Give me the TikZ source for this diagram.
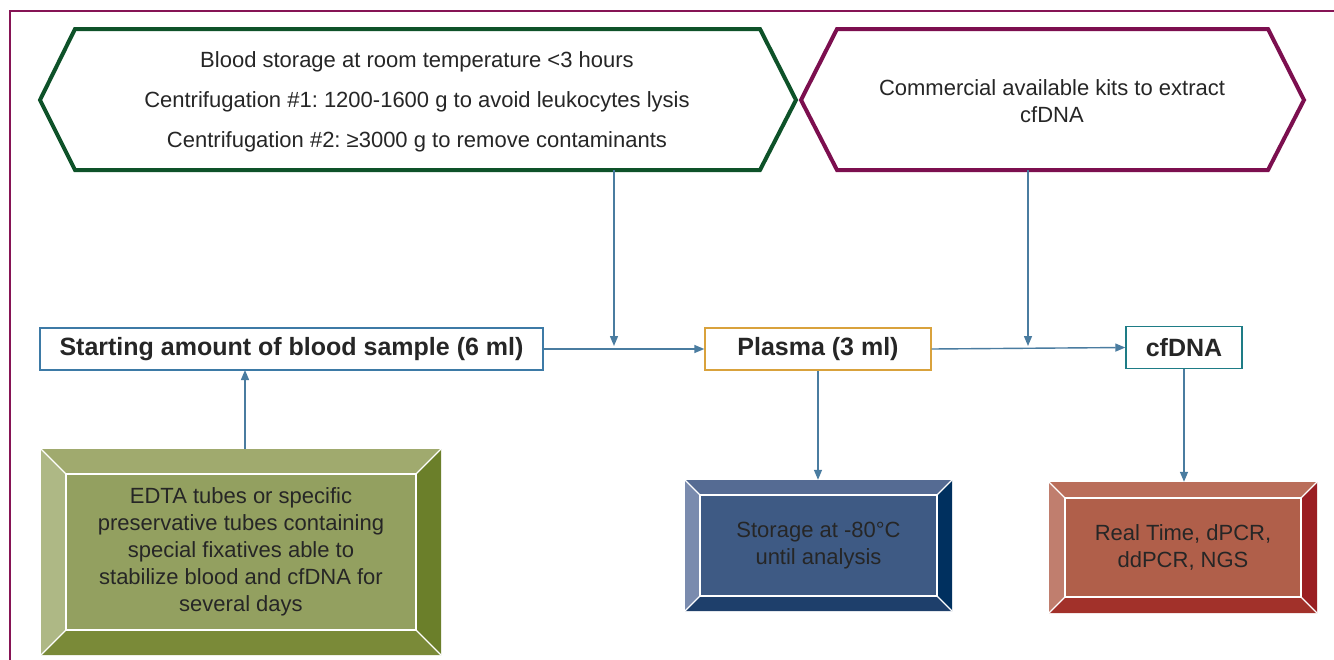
\documentclass[tikz,border=0pt]{standalone}
\usepackage{fontspec}
\setmainfont{Liberation Sans}
\usetikzlibrary{arrows.meta,fit}
\frenchspacing
\definecolor{frame}{HTML}{861455}
\definecolor{hexgreen}{HTML}{0E5229}
\definecolor{hexpurple}{HTML}{7C0F4F}
\definecolor{arrowc}{HTML}{4A7CA0}
\definecolor{startc}{HTML}{3D7AA6}
\definecolor{plasmac}{HTML}{D9A23C}
\definecolor{cfc}{HTML}{1E7C86}
\definecolor{txt}{HTML}{262626}
% olive bevel
\definecolor{gC}{HTML}{93A060}\definecolor{gT}{HTML}{A0AA6E}\definecolor{gL}{HTML}{AEB885}\definecolor{gB}{HTML}{7A8A38}\definecolor{gR}{HTML}{6B7F2A}
% blue bevel
\definecolor{bC}{HTML}{3E5A84}\definecolor{bT}{HTML}{556B93}\definecolor{bL}{HTML}{7A8BAE}\definecolor{bB}{HTML}{1E3F6B}\definecolor{bR}{HTML}{00305F}
% red bevel
\definecolor{rC}{HTML}{B05F4A}\definecolor{rT}{HTML}{BA6E5A}\definecolor{rL}{HTML}{C07E6E}\definecolor{rB}{HTML}{A2312A}\definecolor{rR}{HTML}{9A1E22}
\newcommand{\bevelbox}[8]{%
  \fill[#7C] (#2,#3) rectangle (#4,#5);
  \fill[#7T] (#2,#3) -- (#4,#3) -- (#4-#6,#3+#6) -- (#2+#6,#3+#6) -- cycle;
  \fill[#7L] (#2,#3) -- (#2+#6,#3+#6) -- (#2+#6,#5-#6) -- (#2,#5) -- cycle;
  \fill[#7B] (#2,#5) -- (#2+#6,#5-#6) -- (#4-#6,#5-#6) -- (#4,#5) -- cycle;
  \fill[#7R] (#4,#3) -- (#4,#5) -- (#4-#6,#5-#6) -- (#4-#6,#3+#6) -- cycle;
  \draw[white,line width=1.3pt] (#2+#6,#3+#6) rectangle (#4-#6,#5-#6);
  \draw[white,line width=1.3pt] (#2,#3) -- (#2+#6,#3+#6) (#4,#3) -- (#4-#6,#3+#6)
     (#2,#5) -- (#2+#6,#5-#6) (#4,#5) -- (#4-#6,#5-#6);
  \node[fit={(#2,#3) (#4,#5)}, inner sep=0pt] (#1) {};
  \node[bevtext] (#1-text) at (#1.center) {#8};
}
\begin{document}
\begin{tikzpicture}[x=1pt,y=-1pt,
  hexline/.style={line width=4pt, line join=miter},
  hextext/.style={align=center, text=txt, font=\fontsize{22}{40}\selectfont, inner sep=0pt},
  boxlabel/.style={draw, line width=1.4pt, fill=white, font=\fontsize{25}{28}\bfseries, text=txt, inner sep=0pt, minimum height=42pt},
  bevtext/.style={align=center, text=txt, font=\fontsize{22}{27}\selectfont, inner sep=0pt},
  arr/.style={draw=arrowc, line width=1.4pt, -{Triangle[length=10pt,width=8pt]}}]
\useasboundingbox (0,0) rectangle (1334,659);
\fill[white] (0,0) rectangle (1334,659);
% outer frame
\draw[frame, line width=2pt] (10,660) -- (10,11) -- (1335,11);
% hexagons
\draw[hexgreen, hexline] (75,29) -- (760,29) -- (796,100) -- (760,170) -- (75,170) -- (40,100) -- cycle;
\draw[hexpurple, hexline] (837,29) -- (1268,29) -- (1304,100) -- (1268,170) -- (837,170) -- (801,100) -- cycle;
\node[hextext] (hexL) at (417,102) {Blood storage at room temperature <3 hours\\Centrifugation \#1: 1200-1600 g to avoid leukocytes lysis\\Centrifugation \#2: ≥3000 g to remove contaminants};
\node[hextext, font=\fontsize{22}{27}\selectfont] (hexR) at (1052,101) {Commercial available kits to extract\\cfDNA};
\coordinate (hexLb) at (614,170);
\coordinate (hexRb) at (1028,170);
% main boxes
\node[boxlabel, draw=startc, minimum width=503pt] (start) at (291.5,349) {Starting amount of blood sample (6 ml)};
\node[boxlabel, draw=plasmac, minimum width=226pt] (plasma) at (818,349) {Plasma (3 ml)};
\node[boxlabel, draw=cfc, minimum width=116pt] (cfdna) at (1184,347.5) {cfDNA};
% bevel boxes
\bevelbox{edta}{41}{449}{441}{655}{25}{g}{EDTA tubes or specific\\preservative tubes containing\\special fixatives able to\\stabilize blood and cfDNA for\\several days}
\bevelbox{storage}{685}{480}{952}{611}{15}{b}{Storage at -80°C\\until analysis}
\bevelbox{realtime}{1049}{482}{1317}{613}{16}{r}{Real Time, dPCR,\\ddPCR, NGS}
% connectors
\coordinate (j1) at (614,346);
\coordinate (j2) at (1028,346);
\coordinate (edtatop) at (245,449);
\coordinate (startbot) at (245,370);
\draw[arr] (start.east) -- (plasma.west);
\draw[arr] (plasma.east) -- (cfdna.west);
\draw[arr] (hexLb) -- (j1);
\draw[arr] (hexRb) -- (j2);
\draw[arr] (edtatop) -- (startbot);
\draw[arr] (plasma.south) -- (plasma.south |- storage.north);
\draw[arr] (cfdna.south) -- (cfdna.south |- realtime.north);
\end{tikzpicture}
\end{document}
